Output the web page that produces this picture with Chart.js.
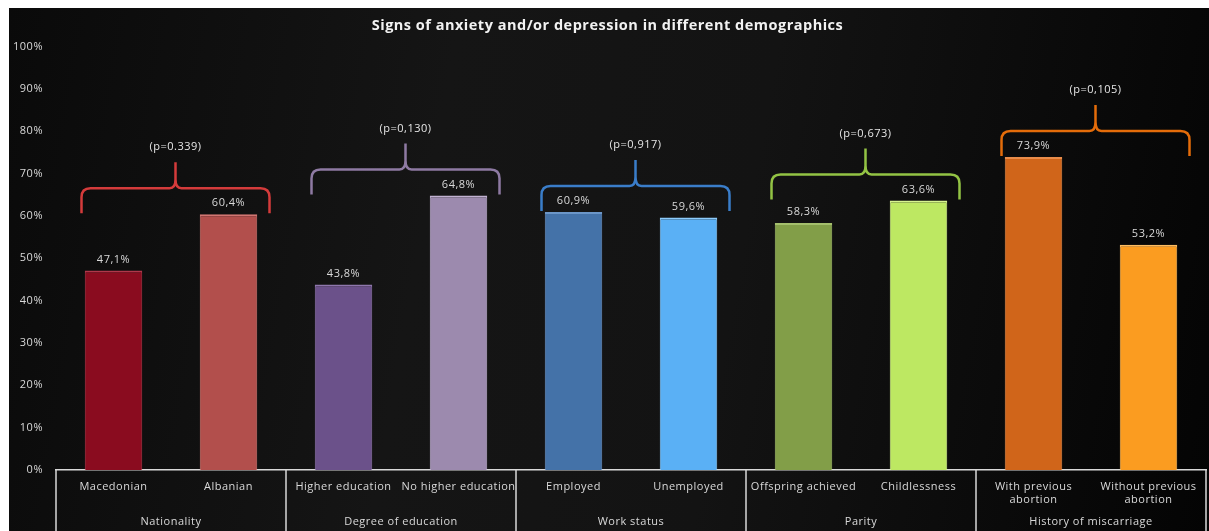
<!DOCTYPE html>
<html lang="en">
<head>
    <meta charset="UTF-8">
    <title>Signs of anxiety and/or depression</title>
    <script src="https://cdn.jsdelivr.net/npm/chart.js"></script>
    <style>
        body { margin: 0; background: #fff; }
        #wrap {
            position: absolute; left: 9px; top: 8px; width: 1200px; height: 523px;
            background: linear-gradient(100deg, #0a0a0a 0%, #151515 35%, #131313 60%, #040404 100%);
        }
    </style>
</head>
<body>
    <div id="wrap"><canvas id="chart"></canvas></div>

    <script>
        // data
        const categories = [
            'Macedonian', 'Albanian',
            'Higher education', 'No higher education',
            'Employed', 'Unemployed',
            'Offspring achieved', 'Childlessness',
            ['With previous', 'abortion'], ['Without previous', 'abortion']
        ];
        const groups = ['Nationality', 'Degree of education', 'Work status', 'Parity', 'History of miscarriage'];
        const pValues = ['(p=0.339)', '(p=0,130)', '(p=0,917)', '(p=0,673)', '(p=0,105)'];
        const values = [47.1, 60.4, 43.8, 64.8, 60.9, 59.6, 58.3, 63.6, 73.9, 53.2];
        const yTicks = [0, 10, 20, 30, 40, 50, 60, 70, 80, 90, 100];

        const barColors = ['#8a0c1f', '#b24f4c', '#6b518a', '#9c8aae', '#4472a8',
                           '#5ab0f5', '#829e48', '#bde862', '#d0651a', '#fb9c20'];
        const barEdges  = ['#b0374a', '#d27672', '#8f77ad', '#c2b2d2', '#6b96c8',
                           '#8dcbfb', '#a4bf6c', '#d8f590', '#e98c4a', '#ffbc5e'];
        const braceColors = ['#d43b3b', '#8e7aa3', '#3a7dc9', '#93c344', '#e46c0a'];

        const FONT = "'Open Sans', 'Noto Sans', sans-serif";
        const fmt = v => v.toFixed(1).replace('.', ',') + '%';

        const overlay = {
            id: 'overlay',
            beforeDraw(chart) {
                // excel-like wider text
                chart.ctx.letterSpacing = '0.5px';
            },
            afterDatasetsDraw(chart) {
                const ctx = chart.ctx;
                const meta = chart.getDatasetMeta(0);
                const x = chart.scales.x;
                const y = chart.scales.y;
                ctx.save();
                ctx.font = '11px ' + FONT;
                ctx.textAlign = 'center';
                ctx.textBaseline = 'middle';
                ctx.fillStyle = '#d9d9d9';
                meta.data.forEach((bar, i) => {
                    ctx.fillText(fmt(values[i]), bar.x, bar.y - 11);
                });

                // braces with p-values
                groups.forEach((g, k) => {
                    const c1 = x.getPixelForValue(2 * k);
                    const c2 = x.getPixelForValue(2 * k + 1);
                    const left = c1 - 32, right = c2 + 41, mid = (left + right) / 2;
                    const base = y.getPixelForValue(Math.max(values[2 * k], values[2 * k + 1])) - 1;
                    const hy = base - 25, tip = hy - 26, r = 9;
                    ctx.strokeStyle = braceColors[k];
                    ctx.lineWidth = 2.5;
                    ctx.lineJoin = 'round';
                    ctx.beginPath();
                    ctx.moveTo(left, base);
                    ctx.lineTo(left, hy + r);
                    ctx.quadraticCurveTo(left, hy, left + r, hy);
                    ctx.lineTo(mid - 6, hy);
                    ctx.quadraticCurveTo(mid, hy, mid, hy - 9);
                    ctx.lineTo(mid, tip);
                    ctx.moveTo(mid, hy - 9);
                    ctx.quadraticCurveTo(mid, hy, mid + 6, hy);
                    ctx.lineTo(right - r, hy);
                    ctx.quadraticCurveTo(right, hy, right, hy + r);
                    ctx.lineTo(right, base);
                    ctx.stroke();
                    ctx.fillStyle = '#e6e6e6';
                    ctx.font = '11px ' + FONT;
                    ctx.fillText(pValues[k], mid, tip - 15);
                });
                ctx.restore();
            },
            afterDraw(chart) {
                const ctx = chart.ctx;
                const x = chart.scales.x;
                const bottom = chart.height;
                ctx.save();
                ctx.strokeStyle = '#d9d9d9';
                ctx.lineWidth = 1.5;
                ctx.font = '11px ' + FONT;
                ctx.fillStyle = '#d9d9d9';
                ctx.textAlign = 'center';
                ctx.textBaseline = 'middle';
                const half = (x.getPixelForValue(1) - x.getPixelForValue(0)) / 2;
                for (let k = 0; k <= groups.length; k++) {
                    const px = x.getPixelForValue(2 * k) - half;
                    ctx.beginPath();
                    ctx.moveTo(px, x.top);
                    ctx.lineTo(px, bottom);
                    ctx.stroke();
                    if (k < groups.length) {
                        ctx.fillText(groups[k], px + 2 * half, bottom - 9);
                    }
                }
                ctx.restore();
                ctx.letterSpacing = '0px';
            }
        };

        new Chart(document.getElementById('chart'), {
            type: 'bar',
            data: {
                labels: categories,
                datasets: [{
                    data: values,
                    backgroundColor: barColors,
                    borderColor: barEdges,
                    borderWidth: { top: 2, left: 1, right: 1, bottom: 0 },
                    barPercentage: 0.5,
                    categoryPercentage: 1
                }]
            },
            options: {
                responsive: true,
                maintainAspectRatio: false,
                animation: false,
                layout: { padding: { right: 3 } },
                plugins: {
                    legend: { display: false },
                    tooltip: { enabled: false },
                    title: {
                        display: true,
                        text: 'Signs of anxiety and/or depression in different demographics',
                        color: '#f2f2f2',
                        font: { family: FONT, size: 14.5, weight: 'bold' },
                        padding: { top: 9, bottom: 12 }
                    }
                },
                scales: {
                    x: {
                        grid: { display: false, drawTicks: false },
                        border: { display: true, color: '#d9d9d9', width: 1.5 },
                        ticks: { color: '#d9d9d9', font: { family: FONT, size: 11 }, padding: 10, maxRotation: 0, autoSkip: false },
                        afterFit(s) { s.height = 61; }
                    },
                    y: {
                        min: 0,
                        max: 100,
                        grid: { display: false, drawTicks: false },
                        border: { display: false },
                        afterBuildTicks(s) { s.ticks = yTicks.map(v => ({ value: v })); },
                        ticks: { color: '#d9d9d9', font: { family: FONT, size: 11 }, padding: 13, callback: v => v + '%' },
                        afterFit(s) { s.width = 47; }
                    }
                }
            },
            plugins: [overlay]
        });
    </script>
</body>
</html>
